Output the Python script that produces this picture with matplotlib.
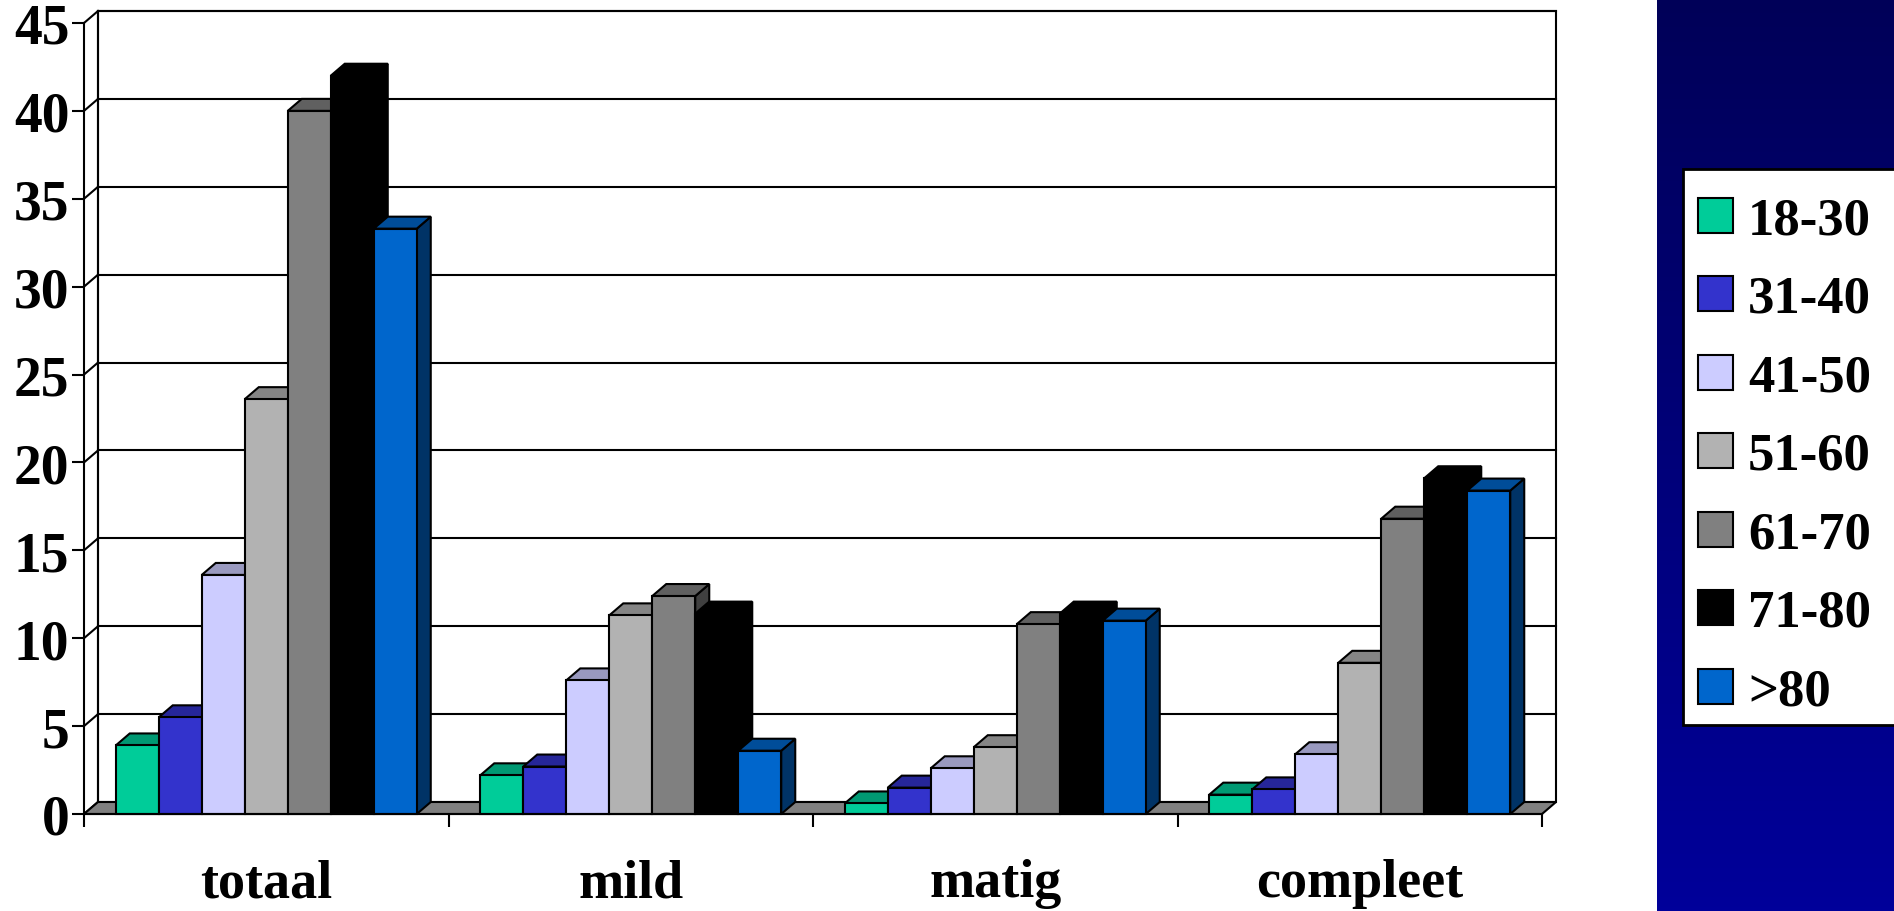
import numpy as np
import matplotlib
matplotlib.use("Agg")
import matplotlib.pyplot as plt
from matplotlib.patches import Polygon, Rectangle
from matplotlib.colors import to_rgb

categories = ['totaal', 'mild', 'matig', 'compleet']
age_groups = ['18-30', '31-40', '41-50', '51-60', '61-70', '71-80', '>80']
colors = ['#00CC99', '#3333CC', '#CCCCFF', '#B2B2B2', '#808080', '#000000', '#0066CC']

# one list per age group, values for totaal / mild / matig / compleet
v_18_30 = [3.9, 2.2, 0.6, 1.1]
v_31_40 = [5.5, 2.7, 1.5, 1.4]
v_41_50 = [13.6, 7.6, 2.6, 3.4]
v_51_60 = [23.6, 11.3, 3.8, 8.6]
v_61_70 = [40.0, 12.4, 10.8, 16.8]
v_71_80 = [42.0, 11.4, 11.4, 19.1]
v_80plus = [33.3, 3.6, 11.0, 18.4]
series = [v_18_30, v_31_40, v_41_50, v_51_60, v_61_70, v_71_80, v_80plus]

yticks = list(range(0, 50, 5))

plt.rcParams['font.family'] = ['Liberation Serif', 'DejaVu Serif']
plt.rcParams['font.weight'] = 'bold'

W, H = 1894, 912
fig = plt.figure(figsize=(W / 100, H / 100), dpi=100)
fig.patch.set_facecolor('white')

# plot area: front plane of the 3d box
ax = fig.add_axes([84 / W, 97 / H, (1542 - 84) / W, (815 - 24) / H])
ax.set_xlim(0, len(categories))
ax.set_ylim(0, 45)
ax.patch.set_visible(False)

# depth of the box in data units (oblique projection)
ddx = 14 / 364.5
ddy = 12 / 17.58
lw = 1.5
nx = len(categories)

# back wall + gridlines
ax.add_patch(Polygon([(ddx, ddy), (nx + ddx, ddy), (nx + ddx, 45 + ddy), (ddx, 45 + ddy)],
                     closed=True, fc='white', ec='black', lw=lw, zorder=1, clip_on=False))
for v in yticks[1:]:
    ax.plot([ddx, nx + ddx], [v + ddy, v + ddy], color='black', lw=lw, zorder=1.5, clip_on=False)
# side wall lines
ax.plot([ddx, ddx], [ddy, 45 + ddy], color='black', lw=lw, zorder=1.5, clip_on=False)
for v in yticks:
    ax.plot([0, ddx], [v, v + ddy], color='black', lw=lw, zorder=1.5, clip_on=False)

# floor
ax.add_patch(Polygon([(0, 0), (nx, 0), (nx + ddx, ddy), (ddx, ddy)],
                     closed=True, fc='#808080', ec='black', lw=lw, zorder=2, clip_on=False))


def shade(c, f):
    r, g, b = to_rgb(c)
    return (r * f, g * f, b * f)


bar_w = 43 / 364.5
start = (1 - len(series) * bar_w) / 2
z = 3
for ci in range(nx):
    for si, vals in enumerate(series):
        h = vals[ci]
        x0 = ci + start + si * bar_w
        x1 = x0 + bar_w
        col = colors[si]
        side = Polygon([(x1, 0), (x1 + ddx, ddy), (x1 + ddx, h + ddy), (x1, h)],
                       closed=True, fc=shade(col, 0.5), ec='black', lw=lw, zorder=z, clip_on=False)
        top = Polygon([(x0, h), (x1, h), (x1 + ddx, h + ddy), (x0 + ddx, h + ddy)],
                      closed=True, fc=shade(col, 0.75), ec='black', lw=lw, zorder=z, clip_on=False)
        front = Rectangle((x0, 0), bar_w, h, fc=col, ec='black', lw=lw, zorder=z, clip_on=False)
        ax.add_patch(side)
        ax.add_patch(top)
        ax.add_patch(front)
        z += 0.01

for s in ['top', 'right']:
    ax.spines[s].set_visible(False)
for s in ['left', 'bottom']:
    ax.spines[s].set_linewidth(lw)
    ax.spines[s].set_zorder(10)

ax.set_yticks(yticks)
ax.set_yticklabels([str(t) for t in yticks])
ax.tick_params(axis='y', direction='out', length=8.6, width=lw, pad=2, labelsize=40)
ax.set_xticks(range(nx + 1))
ax.set_xticklabels([])
ax.tick_params(axis='x', which='major', direction='out', length=9.4, width=lw)
ax.set_xticks([c + 0.5 for c in range(nx)], minor=True)
ax.set_xticklabels(categories, minor=True, fontsize=39, fontweight='bold')
ax.tick_params(axis='x', which='minor', length=0, pad=32)

# navy side panel with vertical gradient
pan = fig.add_axes([1657 / W, 0, (W - 1657) / W, 1])
top_c = np.array([0x00, 0x00, 0x58]) / 255
bot_c = np.array([0x00, 0x00, 0x9A]) / 255
t = np.linspace(0, 1, 256)[:, None]
grad = (top_c[None, :] * (1 - t) + bot_c[None, :] * t)[:, None, :]
pan.imshow(grad, aspect='auto', extent=[0, 1, 0, 1])
pan.set_axis_off()

# legend box
fig.add_artist(Rectangle((1683 / W, (H - 726) / H), (W + 10 - 1683) / W, (726 - 170) / H,
                         transform=fig.transFigure, fc='white', ec='black', lw=2, zorder=5))
for i, (lab, col) in enumerate(zip(age_groups, colors)):
    yc = 216 + 78.5 * i
    fig.add_artist(Rectangle((1698 / W, (H - yc - 17.5) / H), 35 / W, 35 / H,
                             transform=fig.transFigure, fc=col, ec='black', lw=1.5, zorder=6))
    fig.text(1748 / W, (H - yc) / H, lab, fontsize=38, fontweight='bold',
             va='center_baseline', ha='left', zorder=7)

fig.savefig('out.png', dpi=100)
